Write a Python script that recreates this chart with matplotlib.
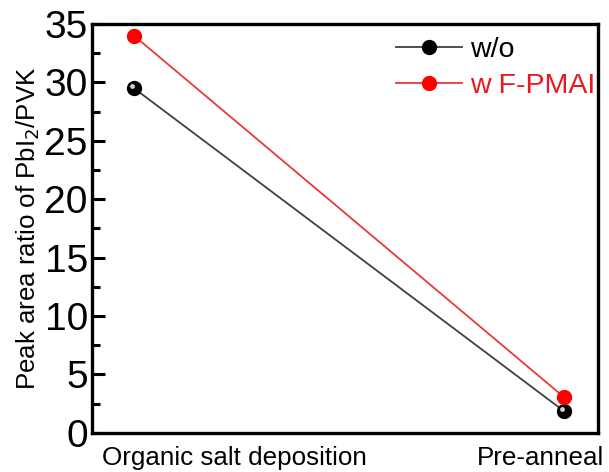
import matplotlib
matplotlib.use("Agg")
import matplotlib.pyplot as plt
import matplotlib.transforms as mtransforms
from matplotlib.ticker import MultipleLocator

plt.rcParams['font.family'] = ['Liberation Sans', 'DejaVu Sans']

categories = ["Organic salt deposition", "Pre-anneal"]
x_pos = [0, 1]
wo_values = [29.5, 1.85]
wf_values = [34.0, 3.05]
series_labels = ["w/o", "w F-PMAI"]
y_ticks = [0, 5, 10, 15, 20, 25, 30, 35]

fig = plt.figure(figsize=(6.09, 4.72), dpi=100)
ax = fig.add_axes([0.151, 0.083, 0.831, 0.866])

ax.plot(x_pos, wo_values, color='#404040', lw=1.3, marker='o', ms=10,
        mfc='black', mec='black', label=series_labels[0], zorder=3)
# highlight for sphere look
hl = ax.transData + mtransforms.ScaledTranslation(-2/100, 2/100, fig.dpi_scale_trans)
ax.plot(x_pos, wo_values, ls='none', marker='o', ms=3.5, mfc='#d0d0d0', mec='none',
        transform=hl, zorder=4)
ax.plot(x_pos, wf_values, color='#e8393a', lw=1.3, marker='o', ms=10,
        mfc='#ff0000', mec='#ff0000', label=series_labels[1], zorder=3)

ax.set_xlim(-0.098, 1.079)
ax.set_ylim(0, 35)
ax.set_yticks(y_ticks)
ax.yaxis.set_minor_locator(MultipleLocator(2.5))
ax.tick_params(axis='y', which='major', direction='in', length=9, width=2.2,
               labelsize=28, pad=3, right=False)
ax.tick_params(axis='y', which='minor', direction='in', length=6, width=2.2, right=False)
ax.set_xticks([])
for s in ax.spines.values():
    s.set_linewidth(2.4)

ax.set_ylabel("Peak area ratio of PbI$_2$/PVK", fontsize=18.6, labelpad=2)

ax.text(0.02, -0.032, categories[0], transform=ax.transAxes, ha='left', va='top', fontsize=18.7)
ax.text(1.013, -0.032, categories[1], transform=ax.transAxes, ha='right', va='top', fontsize=18.7)

leg = ax.legend(loc='upper right', frameon=False, fontsize=20.5, handlelength=2.3,
                handletextpad=0.28, labelspacing=0.36, borderaxespad=0.0, borderpad=0.2,
                bbox_to_anchor=(1.005, 0.983))
for t, c in zip(leg.get_texts(), ['black', '#e8191c']):
    t.set_color(c)

fig.savefig("out.png", dpi=100)
